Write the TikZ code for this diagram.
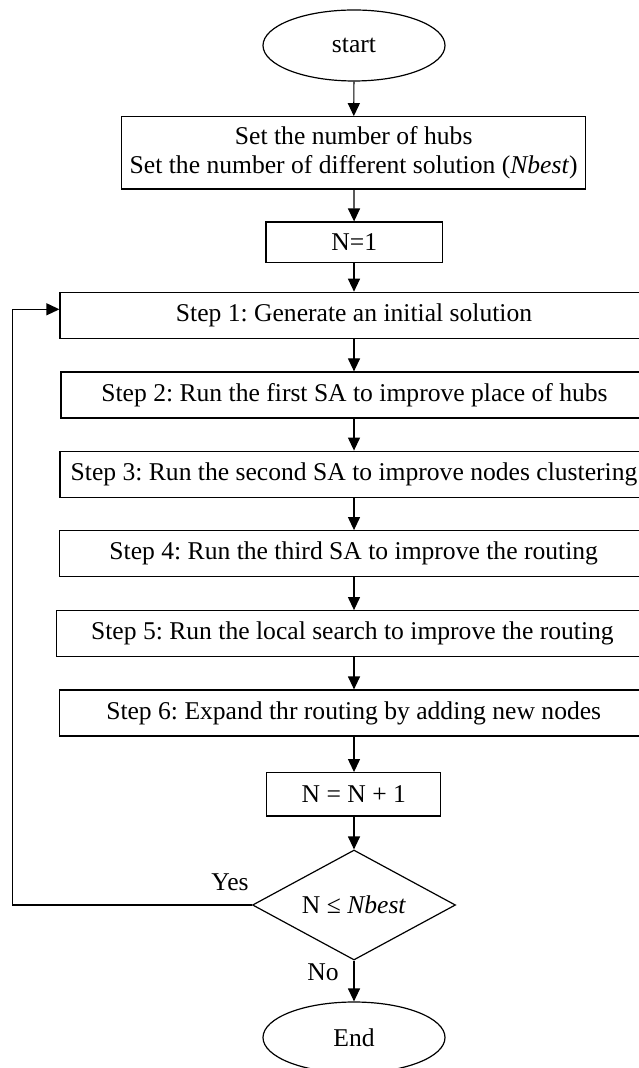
\documentclass[tikz,border=0pt]{standalone}
\usepackage{fontspec}
\setmainfont{Liberation Serif}
\usetikzlibrary{shapes.geometric,arrows.meta}
\frenchspacing
\begin{document}
\begin{tikzpicture}[x=0.5pt,y=-0.5pt,
 base/.style={draw=black, line width=0.6pt, inner sep=0pt, font=\fontsize{12.8}{14.5}\selectfont, align=center},
 term/.style={base, ellipse, minimum width=91pt, minimum height=35.5pt},
 proc/.style={base, rectangle},
 stepbox/.style={base, rectangle, minimum height=23pt},
 decision/.style={base, diamond, minimum width=101.5pt, minimum height=55pt, aspect=1.85},
 arr/.style={draw=black, line width=0.6pt, -{Triangle[length=6.5pt,width=6pt]}},
 lbl/.style={font=\fontsize{12.8}{14.5}\selectfont, inner sep=0pt}]
\useasboundingbox (0,0) rectangle (638,1068);
\node[term] (start) at (354,45.5) {start};
\node[proc, minimum width=232pt, minimum height=36.15pt] (init) at (353.7,152.9) {Set the number of hubs\\Set the number of different solution (\textit{Nbest})};
\node[proc, minimum width=88.25pt, minimum height=20.15pt] (n1) at (354.2,242.2) {N=1};
\node[stepbox, minimum width=294pt] (s1) at (354,315.3) {Step 1: Generate an initial solution};
\node[stepbox, minimum width=293.5pt] (s2) at (354.5,395) {Step 2: Run the first SA to improve place of hubs};
\node[stepbox, minimum width=294pt] (s3) at (354,474.2) {Step 3: Run the second SA to improve nodes clustering};
\node[stepbox, minimum width=294.4pt] (s4) at (353.7,553.7) {Step 4: Run the third SA to improve the routing};
\node[stepbox, minimum width=295.7pt] (s5) at (352.4,633.7) {Step 5: Run the local search to improve the routing};
\node[stepbox, minimum width=294.4pt] (s6) at (353.7,713) {Step 6: Expand thr routing by adding new nodes};
\node[proc, minimum width=87pt, minimum height=21.65pt] (nn) at (353.8,794.3) {N = N + 1};
\node[decision] (dec) at (354,905) {N ≤ \textit{Nbest}};
\node[term] (end) at (354,1037.5) {End};
\node[lbl] (yes) at (230,882) {Yes};
\node[lbl] (no) at (323,972) {No};
\coordinate (lc) at (12.7,905);
\draw[arr] (start) -- (init);
\draw[arr] (init) -- (n1);
\draw[arr] (n1.south -| start) -- (s1.north -| start);
\draw[arr] (s1.south -| start) -- (s2.north -| start);
\draw[arr] (s2.south -| start) -- (s3.north -| start);
\draw[arr] (s3.south -| start) -- (s4.north -| start);
\draw[arr] (s4.south -| start) -- (s5.north -| start);
\draw[arr] (s5.south -| start) -- (s6.north -| start);
\draw[arr] (s6.south -| start) -- (nn.north -| start);
\draw[arr] (nn.south -| start) -- (dec.north);
\draw[arr] (dec.south) -- (end.north);
\draw[arr] (dec.west) -- (lc) |- ([yshift=3pt]s1.west);
\end{tikzpicture}
\end{document}
